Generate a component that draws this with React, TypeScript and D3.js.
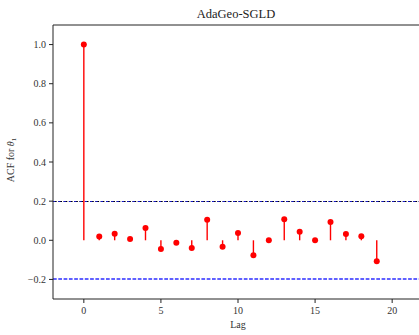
import * as d3 from "d3";

/* data */
const lags = [0, 1, 2, 3, 4, 5, 6, 7, 8, 9, 10, 11, 12, 13, 14, 15, 16, 17, 18, 19];
const acf = [
  1.0, 0.019, 0.034, 0.007, 0.063, -0.044, -0.012, -0.039, 0.105, -0.033,
  0.037, -0.076, 0.0, 0.108, 0.044, 0.0, 0.093, 0.032, 0.02, -0.107,
];
const xTickVals = [0, 5, 10, 15, 20];
const yTickVals = [-0.2, 0.0, 0.2, 0.4, 0.6, 0.8, 1.0];
const bound = 0.2;

const W = 419;
const H = 335;
const margin = { top: 25, right: -4, bottom: 36, left: 53 };
const font = "'Liberation Serif', 'DejaVu Serif', serif";

export default function App() {
  const innerW = W - margin.left - margin.right;
  const innerH = H - margin.top - margin.bottom;

  const x = d3.scaleLinear().domain([-2, 22]).range([0, innerW]);
  const y = d3.scaleLinear().domain([-0.3, 1.1]).range([innerH, 0]);
  const fmt = (v: number) => (v < 0 ? "\u2212" : "") + Math.abs(v).toFixed(1);
  const yHi = Math.round(y(bound)) + 0.5;
  const yLo = Math.round(y(-bound));

  return (
    <svg
      width={W}
      height={H}
      style={{ position: "absolute", left: 0, top: 0, background: "#fff" }}
      fontFamily={font}
    >
      <text x={margin.left + innerW / 2 - 2} y={18} textAnchor="middle" fontSize={12.5} fill="#222">
        AdaGeo-SGLD
      </text>
      <g transform={`translate(${margin.left},${margin.top})`}>
        {/* confidence bounds */}
        <line x1={0} x2={innerW} y1={yHi} y2={yHi} stroke="#000" strokeWidth={1} strokeDasharray="3.7 1.6" />
        <line x1={0} x2={innerW} y1={yHi} y2={yHi} stroke="#1515c8" strokeWidth={1} strokeDasharray="2.2 3.1" />
        <line x1={0} x2={innerW} y1={yLo} y2={yLo} stroke="#6060ff" strokeWidth={2} strokeDasharray="3.7 1.6" />

        {/* stems */}
        {lags.map((l, i) => (
          <g key={l}>
            <line x1={x(l)} x2={x(l)} y1={y(0)} y2={y(acf[i])} stroke="#ff0000" strokeWidth={1.4} />
            <circle cx={x(l)} cy={y(acf[i])} r={3} fill="#ff0000" />
          </g>
        ))}

        {/* spines */}
        <line x1={0} x2={0} y1={0} y2={innerH} stroke="#222" strokeWidth={1} />
        <line x1={0} x2={innerW} y1={0} y2={0} stroke="#222" strokeWidth={1} />
        <line x1={0} x2={innerW} y1={innerH} y2={innerH} stroke="#222" strokeWidth={1} />

        {/* y ticks */}
        {yTickVals.map((t) => (
          <g key={t} transform={`translate(0,${y(t)})`}>
            <line x1={-4} x2={0} stroke="#222" strokeWidth={1} />
            <text x={-7} dy="0.35em" textAnchor="end" fontSize={10} fill="#333">
              {fmt(t)}
            </text>
          </g>
        ))}

        {/* x ticks */}
        {xTickVals.map((t) => (
          <g key={t} transform={`translate(${x(t)},${innerH})`}>
            <line y1={0} y2={4} stroke="#222" strokeWidth={1} />
            <text y={15} textAnchor="middle" fontSize={10} fill="#333">
              {t}
            </text>
          </g>
        ))}

        <text x={x(10)} y={innerH + 29} textAnchor="middle" fontSize={10} fill="#333">
          Lag
        </text>
        <text
          transform={`translate(${-39},${innerH / 2 - 2}) rotate(-90)`}
          textAnchor="middle"
          fontSize={10}
          fill="#333"
        >
          ACF for <tspan fontStyle="italic">θ</tspan>
          <tspan fontSize={7} dy={2}>1</tspan>
        </text>
      </g>
    </svg>
  );
}
